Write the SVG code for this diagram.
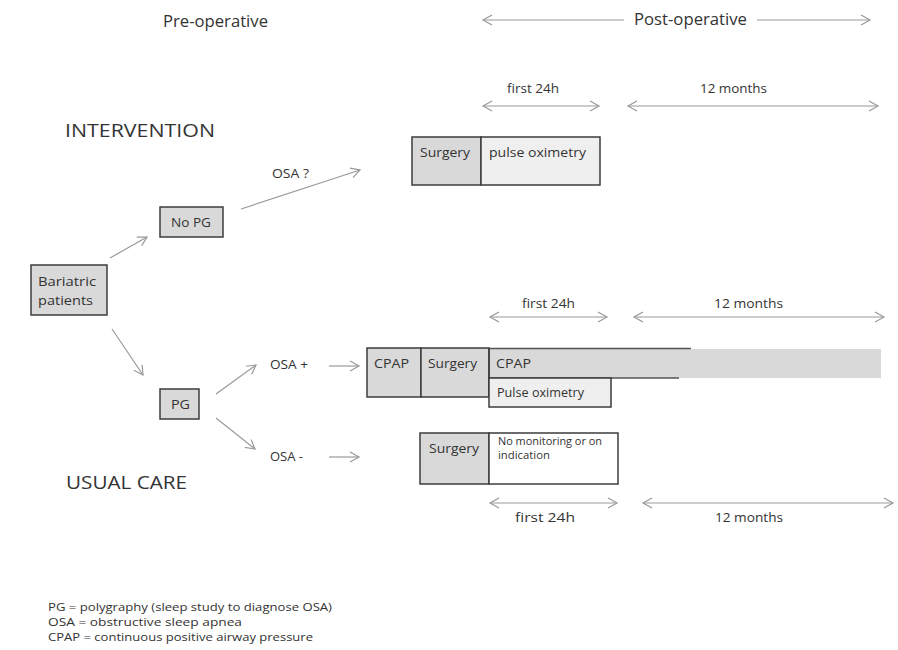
<svg xmlns="http://www.w3.org/2000/svg" width="898" height="650" viewBox="0 0 898 650">
<defs>
<marker id="ah" markerWidth="12" markerHeight="12" refX="10" refY="6" orient="auto-start-reverse" markerUnits="userSpaceOnUse">
<path d="M1,1 L10,6 L1,11" fill="none" stroke="#9a9a9a" stroke-width="1.2"/>
</marker>
<style>
text{font-family:"Open Sans","Liberation Sans",sans-serif;fill:#333;}
.t13{font-size:13px;}
.t12{font-size:12px;}
.t16{font-size:16px;}
.t18{font-size:18px;}
.t10{font-size:10px;}
.t11{font-size:11px;}
.box{fill:#d9d9d9;stroke:#3c3c3c;stroke-width:1.5;}
.lbox{fill:#efefef;stroke:#3c3c3c;stroke-width:1.5;}
.wbox{fill:#ffffff;stroke:#3c3c3c;stroke-width:1.5;}
.conn line{stroke:#9a9a9a;stroke-width:1.2;fill:none;}
.ar{marker-end:url(#ah);}
.dar{marker-start:url(#ah);marker-end:url(#ah);}
.sa{marker-start:url(#ah);}
</style>
</defs>
<rect width="898" height="650" fill="#ffffff"/>

<!-- headings -->
<text class="t16" x="163" y="27" textLength="105" lengthAdjust="spacingAndGlyphs">Pre-operative</text>
<text class="t16" x="634" y="25" textLength="113" lengthAdjust="spacingAndGlyphs">Post-operative</text>
<text class="t18" x="65" y="137" textLength="150" lengthAdjust="spacingAndGlyphs">INTERVENTION</text>
<text class="t18" x="66" y="489" textLength="121" lengthAdjust="spacingAndGlyphs">USUAL CARE</text>

<!-- time labels -->
<text class="t12" x="507" y="93" textLength="52" lengthAdjust="spacingAndGlyphs">first 24h</text>
<text class="t12" x="700" y="93" textLength="67" lengthAdjust="spacingAndGlyphs">12 months</text>
<text class="t12" x="522" y="308" textLength="53" lengthAdjust="spacingAndGlyphs">first 24h</text>
<text class="t12" x="714" y="308" textLength="69" lengthAdjust="spacingAndGlyphs">12 months</text>
<text class="t12" x="515" y="522" textLength="60" lengthAdjust="spacingAndGlyphs">first 24h</text>
<text class="t12" x="715" y="522" textLength="68" lengthAdjust="spacingAndGlyphs">12 months</text>

<!-- branch labels -->
<text class="t12" x="272" y="178" textLength="37" lengthAdjust="spacingAndGlyphs">OSA ?</text>
<text class="t12" x="270" y="369" textLength="38" lengthAdjust="spacingAndGlyphs">OSA +</text>
<text class="t12" x="270" y="461" textLength="33" lengthAdjust="spacingAndGlyphs">OSA -</text>

<!-- nodes -->
<g id="bariatric">
<rect class="box" x="31" y="265" width="76" height="50"/>
<text class="t13" x="38" y="286" textLength="58" lengthAdjust="spacingAndGlyphs">Bariatric</text>
<text class="t13" x="38" y="305" textLength="55" lengthAdjust="spacingAndGlyphs">patients</text>
</g>
<g id="nopg">
<rect class="box" x="160" y="207" width="63" height="30"/>
<text class="t13" x="171" y="227" textLength="40" lengthAdjust="spacingAndGlyphs">No PG</text>
</g>
<g id="pg">
<rect class="box" x="160" y="389" width="39" height="30"/>
<text class="t13" x="171" y="409" textLength="19" lengthAdjust="spacingAndGlyphs">PG</text>
</g>

<g id="intervention-surgery">
<rect class="box" x="412" y="137" width="69" height="48"/>
<rect class="lbox" x="481" y="137" width="119" height="48"/>
<text class="t13" x="420" y="157" textLength="50" lengthAdjust="spacingAndGlyphs">Surgery</text>
<text class="t13" x="489" y="157" textLength="97" lengthAdjust="spacingAndGlyphs">pulse oximetry</text>
</g>

<g id="osa-plus-track">
<rect x="489" y="349" width="392" height="29" fill="#d9d9d9"/>
<line x1="489" y1="348.5" x2="691" y2="348.5" stroke="#555" stroke-width="1.5"/>
<line x1="489" y1="378" x2="679" y2="378" stroke="#555" stroke-width="1.5"/>
<rect class="box" x="367" y="348" width="54" height="49"/>
<rect class="box" x="421" y="348" width="68" height="49"/>
<line x1="489" y1="348" x2="489" y2="397" stroke="#3c3c3c" stroke-width="1.5"/>
<text class="t13" x="374" y="368" textLength="35" lengthAdjust="spacingAndGlyphs">CPAP</text>
<text class="t13" x="428" y="368" textLength="49" lengthAdjust="spacingAndGlyphs">Surgery</text>
<text class="t13" x="496" y="368" textLength="35" lengthAdjust="spacingAndGlyphs">CPAP</text>
<rect class="lbox" x="489" y="378" width="122" height="29"/>
<text class="t12" x="497" y="397" textLength="87" lengthAdjust="spacingAndGlyphs">Pulse oximetry</text>
</g>

<g id="osa-minus-track">
<rect class="box" x="420" y="433" width="69" height="51"/>
<rect class="wbox" x="489" y="433" width="129" height="51"/>
<text class="t13" x="429" y="453" textLength="50" lengthAdjust="spacingAndGlyphs">Surgery</text>
<text class="t10" x="498" y="445" textLength="104" lengthAdjust="spacingAndGlyphs">No monitoring or on</text>
<text class="t10" x="498" y="459" textLength="52" lengthAdjust="spacingAndGlyphs">indication</text>
</g>

<!-- connectors -->
<g id="connectors" class="conn">
<line class="sa" x1="483" y1="20" x2="624" y2="20"/>
<line class="ar" x1="757" y1="20" x2="870" y2="20"/>
<line class="dar" x1="483" y1="106" x2="599" y2="106"/>
<line class="dar" x1="628" y1="106" x2="878" y2="106"/>
<line class="dar" x1="490" y1="317" x2="607" y2="317"/>
<line class="dar" x1="634" y1="317" x2="884" y2="317"/>
<line class="dar" x1="490" y1="503" x2="617" y2="503"/>
<line class="dar" x1="643" y1="503" x2="893" y2="503"/>
<line class="ar" x1="110" y1="258" x2="147" y2="237"/>
<line class="ar" x1="112" y1="329" x2="143" y2="375"/>
<line class="ar" x1="241" y1="209" x2="360" y2="170"/>
<line class="ar" x1="216" y1="394" x2="256" y2="365"/>
<line class="ar" x1="216" y1="418" x2="255" y2="449"/>
<line class="ar" x1="329" y1="366" x2="359" y2="366"/>
<line class="ar" x1="329" y1="457" x2="359" y2="457"/>
</g>

<!-- legend -->
<text class="t11" x="48" y="611" textLength="284" lengthAdjust="spacingAndGlyphs">PG = polygraphy (sleep study to diagnose OSA)</text>
<text class="t11" x="48" y="626" textLength="194" lengthAdjust="spacingAndGlyphs">OSA = obstructive sleep apnea</text>
<text class="t11" x="48" y="641" textLength="265" lengthAdjust="spacingAndGlyphs">CPAP = continuous positive airway pressure</text>
</svg>
